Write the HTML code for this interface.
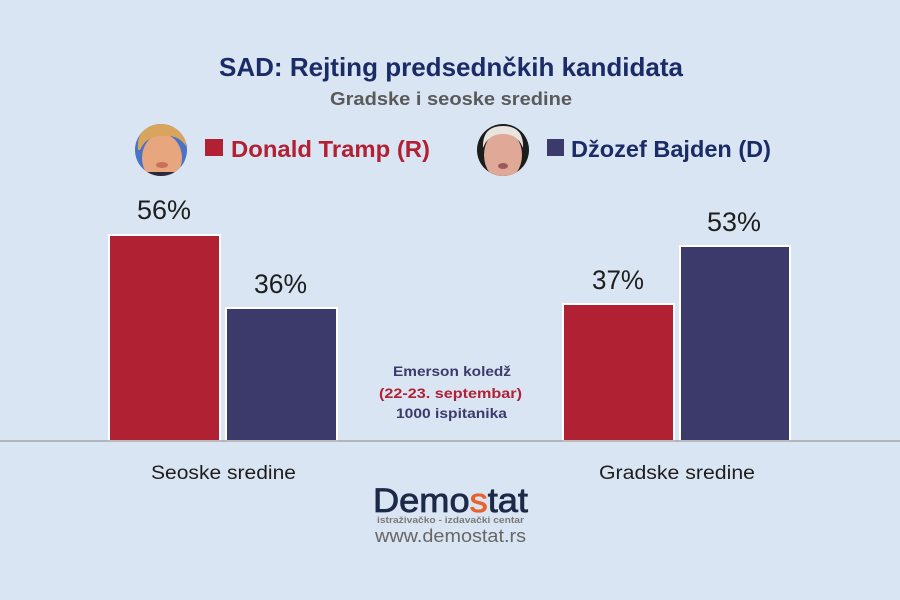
<!DOCTYPE html>
<html><head><meta charset="utf-8"><style>
html,body{margin:0;padding:0;background:#dae5f4;}
svg{display:block;}
text{font-family:"Liberation Sans",sans-serif;}
</style></head><body>
<svg width="900" height="600" viewBox="0 0 900 600" xmlns="http://www.w3.org/2000/svg">
<rect width="900" height="600" fill="#dae5f4"/>
<text x="219" y="76" font-size="26" font-weight="bold" fill="#1b2b66" textLength="464" lengthAdjust="spacingAndGlyphs">SAD: Rejting  predsednčkih kandidata</text>
<text x="330" y="105" font-size="18" font-weight="bold" fill="#5a5a5a" textLength="242" lengthAdjust="spacingAndGlyphs">Gradske i seoske sredine</text>

<defs>
<clipPath id="c1"><circle cx="161" cy="150" r="26"/></clipPath>
<clipPath id="c2"><circle cx="503" cy="150" r="26"/></clipPath>
</defs>
<g clip-path="url(#c1)">
<rect x="130" y="120" width="62" height="62" fill="#4a73c4"/>
<ellipse cx="162" cy="158" rx="20" ry="24" fill="#e8a67e"/>
<path d="M138 150 Q136 124 162 124 Q186 124 186 146 Q178 134 162 136 Q146 136 140 150 Z" fill="#d9a55e"/>
<rect x="130" y="172" width="62" height="12" fill="#2a2a3a"/>
<ellipse cx="162" cy="165" rx="6" ry="3" fill="#c8705a"/>
</g>
<g clip-path="url(#c2)">
<rect x="472" y="120" width="62" height="62" fill="#1c1c1c"/>
<ellipse cx="503" cy="155" rx="19" ry="25" fill="#e0a896"/>
<path d="M483 148 Q482 126 503 126 Q524 126 523 148 Q518 134 503 134 Q488 134 483 148 Z" fill="#e8e4e0"/>
<ellipse cx="503" cy="166" rx="5" ry="3" fill="#9a5a55"/>
</g>

<rect x="205" y="139" width="18" height="17" fill="#b22033"/>
<text x="231" y="157" font-size="23" font-weight="bold" fill="#b22033" textLength="199" lengthAdjust="spacingAndGlyphs">Donald Tramp (R)</text>
<rect x="547" y="139" width="17" height="17" fill="#3b3a6b"/>
<text x="571" y="157" font-size="23" font-weight="bold" fill="#1b2b66" textLength="200" lengthAdjust="spacingAndGlyphs">Džozef Bajden (D)</text>

<rect x="109" y="235" width="111" height="206" fill="#b02133" stroke="#ffffff" stroke-width="2"/>
<rect x="226" y="308" width="111" height="133" fill="#3b3a6b" stroke="#ffffff" stroke-width="2"/>
<rect x="563" y="304" width="111" height="137" fill="#b02133" stroke="#ffffff" stroke-width="2"/>
<rect x="680" y="246" width="110" height="195" fill="#3b3a6b" stroke="#ffffff" stroke-width="2"/>

<line x1="0" y1="441" x2="900" y2="441" stroke="#a3a3a3" stroke-width="1.5"/>

<g font-size="27" fill="#1e1e1e">
<text x="137" y="219" textLength="54" lengthAdjust="spacingAndGlyphs">56%</text>
<text x="254" y="293" textLength="53" lengthAdjust="spacingAndGlyphs">36%</text>
<text x="592" y="289" textLength="52" lengthAdjust="spacingAndGlyphs">37%</text>
<text x="707" y="231" textLength="54" lengthAdjust="spacingAndGlyphs">53%</text>
</g>

<text x="151" y="479" font-size="19" fill="#1e1e1e" textLength="145" lengthAdjust="spacingAndGlyphs">Seoske sredine</text>
<text x="599" y="479" font-size="19" fill="#1e1e1e" textLength="156" lengthAdjust="spacingAndGlyphs">Gradske sredine</text>

<text x="393" y="376" font-size="14" font-weight="bold" fill="#3b3a6b" textLength="118" lengthAdjust="spacingAndGlyphs">Emerson koledž</text>
<text x="379" y="398" font-size="14" font-weight="bold" fill="#b22033" textLength="143" lengthAdjust="spacingAndGlyphs">(22-23. septembar)</text>
<text x="396" y="418" font-size="14" font-weight="bold" fill="#3b3a6b" textLength="111" lengthAdjust="spacingAndGlyphs">1000 ispitanika</text>

<text x="373" y="512" font-size="34" fill="#1c2a48" stroke="#1c2a48" stroke-width="0.8" textLength="155" lengthAdjust="spacingAndGlyphs">Demo<tspan fill="#e8622a" stroke="#e8622a">s</tspan>tat</text>
<text x="377" y="523" font-size="9" font-weight="bold" fill="#7a7a7a" textLength="147" lengthAdjust="spacingAndGlyphs">istraživačko - izdavački  centar</text>
<text x="375" y="542" font-size="18" fill="#666666" textLength="151" lengthAdjust="spacingAndGlyphs">www.demostat.rs</text>
</svg>
</body></html>
